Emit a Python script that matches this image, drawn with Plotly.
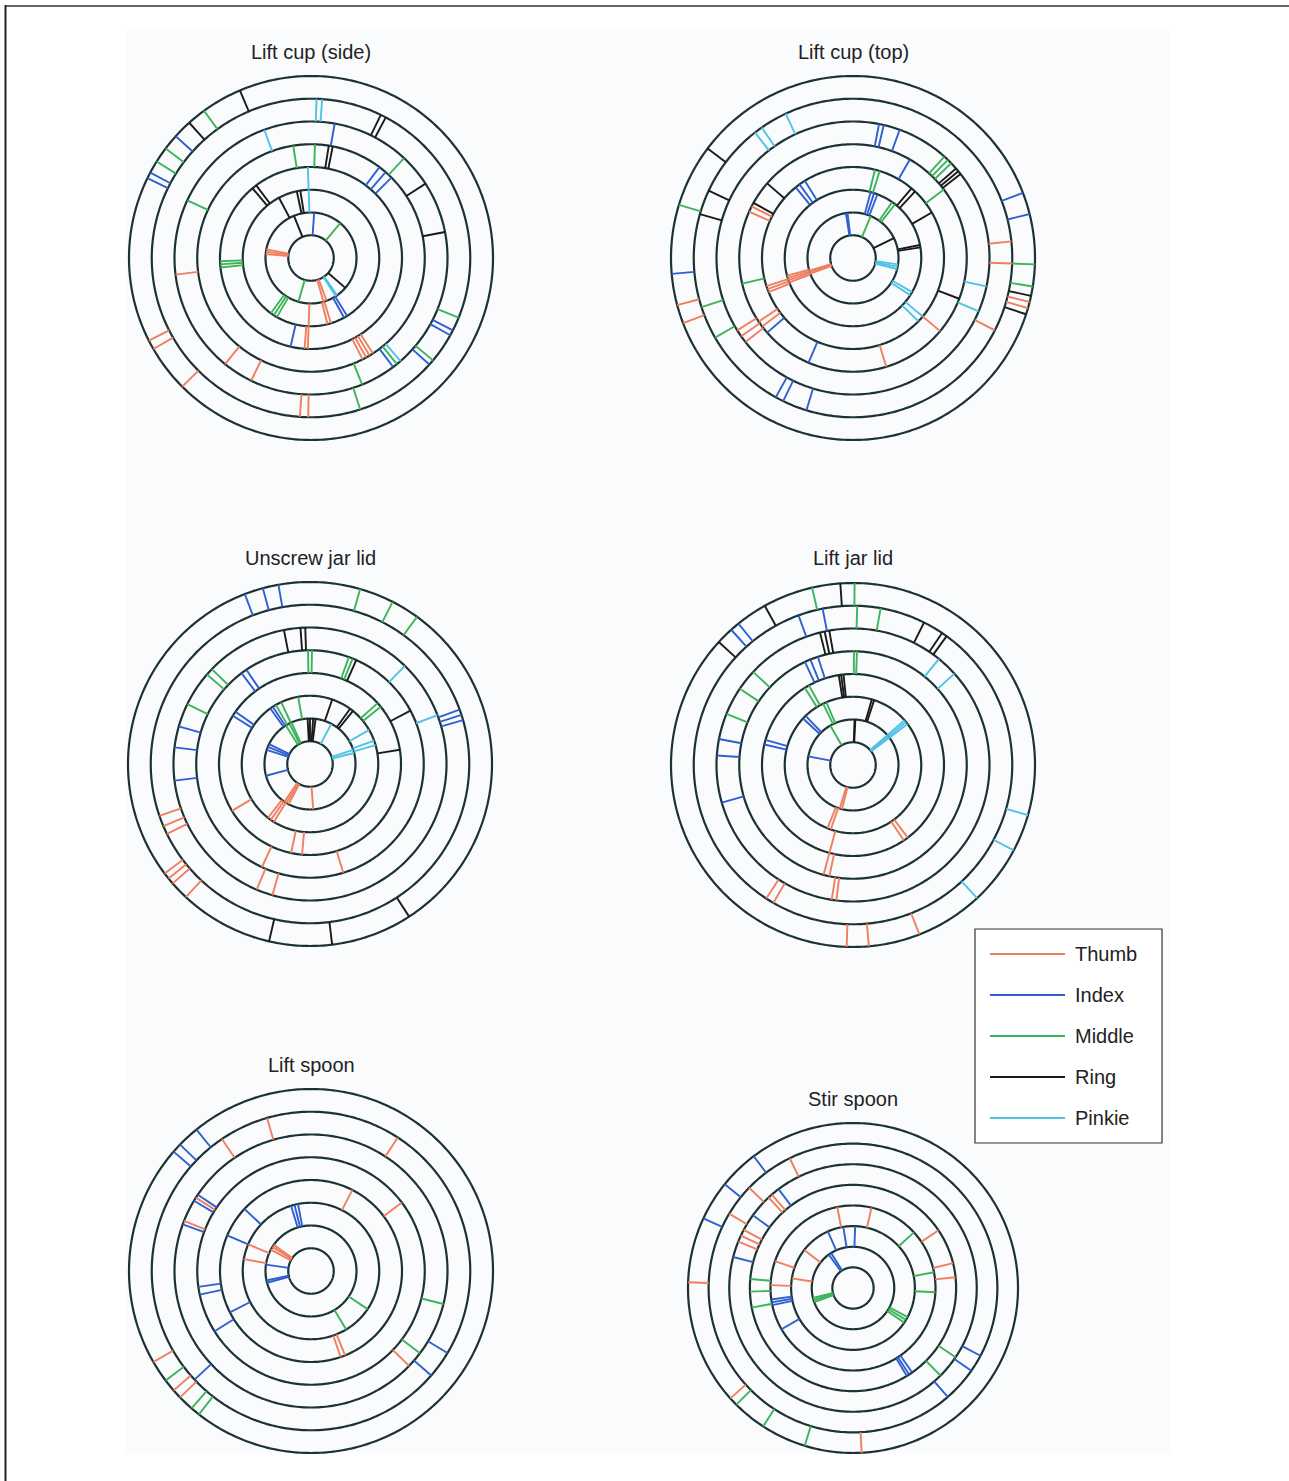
import plotly.graph_objects as go

W, H = 1289, 1481

FINGERS = ["Thumb", "Index", "Middle", "Ring", "Pinkie"]
FINGER_COLORS = ["#ef7f5f", "#2f5fd0", "#3db45a", "#1a1a1a", "#4ec3e6"]
TITLES = ["Lift cup (side)", "Lift cup (top)", "Unscrew jar lid",
          "Lift jar lid", "Lift spoon", "Stir spoon"]
N_CIRCLES = 8  # circles at r = 1..8, rings between consecutive circles

# (ring index 1..7, angle in degrees clockwise from top)
LIFT_CUP_SIDE = {
    "Thumb": [(1, 275), (1, 278), (1, 281), (1, 160), (1, 164), (2, 163), (2, 166), (2, 182),
              (3, 182), (3, 184), (4, 147), (4, 149), (4, 151), (4, 153), (5, 263), (5, 219),
              (5, 206), (6, 181), (6, 184), (7, 240), (7, 243), (7, 225)],
    "Index": [(7, 312), (7, 296), (7, 298), (5, 10), (4, 37), (4, 41), (4, 45), (1, 4),
              (2, 148), (2, 151), (3, 193), (5, 143), (6, 117), (6, 119), (6, 132)],
    "Middle": [(7, 324), (7, 307), (7, 302), (4, 351), (4, 2), (5, 43), (5, 295), (5, 158),
               (1, 40), (1, 196), (3, 264), (3, 266), (3, 268), (2, 210), (2, 213), (2, 216),
               (6, 112), (6, 130), (6, 162), (5, 141)],
    "Ring": [(7, 337), (7, 318), (6, 26), (6, 28), (4, 9), (4, 11), (5, 57), (5, 79),
             (3, 320), (3, 323), (2, 348), (2, 351), (2, 332), (1, 338), (1, 131)],
    "Pinkie": [(6, 2), (6, 4), (5, 340), (2, 358), (3, 358), (1, 145), (1, 147), (5, 139)],
}
LIFT_CUP_TOP = {
    "Thumb": [(1, 250), (1, 252), (1, 254), (2, 249), (2, 251), (2, 253), (2, 255),
              (3, 248), (3, 250), (3, 252), (4, 294), (4, 297), (4, 233), (4, 236), (4, 130),
              (4, 163), (5, 232), (5, 235), (5, 238), (6, 84), (6, 92), (6, 117),
              (7, 104), (7, 106), (7, 249), (7, 255)],
    "Index": [(7, 265), (7, 69), (7, 76), (5, 11), (5, 13), (5, 20), (4, 30), (4, 203),
              (4, 229), (3, 321), (3, 324), (3, 328), (2, 15), (2, 18), (2, 21), (1, 351),
              (1, 353), (6, 206), (6, 209), (6, 197)],
    "Middle": [(7, 287), (7, 92), (7, 99), (5, 42), (5, 44), (5, 46), (4, 53), (4, 257),
               (3, 14), (3, 17), (2, 35), (2, 38), (1, 23), (6, 252), (6, 240)],
    "Ring": [(7, 307), (7, 102), (7, 108), (6, 295), (6, 286), (5, 49), (5, 50.5), (5, 52),
             (4, 311), (4, 299), (4, 111), (3, 40), (3, 43), (3, 60), (2, 79), (2, 81), (1, 64)],
    "Pinkie": [(6, 322), (6, 325), (6, 335), (1, 98), (1, 101), (1, 104), (2, 120), (2, 123),
               (3, 130), (3, 134), (5, 102), (5, 113)],
}
UNSCREW_JAR_LID = {
    "Thumb": [(1, 176), (1, 208), (1, 211), (1, 214), (2, 212), (2, 215), (2, 218),
              (3, 185), (3, 192), (3, 239), (4, 163), (4, 205), (5, 196), (5, 203),
              (6, 244), (6, 247), (6, 251), (7, 223), (7, 229), (7, 231), (7, 233)],
    "Index": [(7, 339), (7, 345), (7, 350), (4, 323), (4, 326), (5, 286), (5, 277), (5, 263),
              (3, 302), (3, 305), (2, 324.5), (2, 327), (1, 288), (1, 292), (1, 296), (1, 255),
              (6, 70), (6, 72), (6, 74)],
    "Middle": [(7, 16), (7, 27), (7, 36), (4, 359), (4, 1), (4, 20), (4, 22), (5, 311),
               (5, 314), (5, 296), (1, 328), (1, 333), (1, 336), (2, 330), (2, 335), (2, 350),
               (3, 48), (3, 51)],
    "Ring": [(5, 349), (5, 356), (5, 358), (4, 24), (1, 357), (1, 0), (1, 4), (1, 7),
             (2, 19), (2, 36), (2, 39), (4, 62), (3, 81), (7, 193), (7, 173), (7, 147)],
    "Pinkie": [(5, 44), (5, 69), (1, 28), (1, 72), (1, 76), (2, 60), (2, 70), (2, 74)],
}
LIFT_JAR_LID = {
    "Thumb": [(1, 194), (1, 197), (2, 199), (2, 202), (3, 195), (3, 143), (3, 146),
              (4, 192), (4, 195), (5, 187), (5, 189), (6, 210), (6, 213), (7, 182), (7, 175),
              (7, 158.6)],
    "Index": [(7, 318), (7, 321), (6, 340), (6, 349), (4, 335), (4, 338), (4, 342),
              (2, 313), (2, 316), (3, 283), (3, 286), (5, 281), (5, 274), (5, 254), (1, 281)],
    "Middle": [(7, 347), (7, 0.5), (6, 1.5), (6, 10), (4, 0.5), (4, 2), (5, 313), (5, 304),
               (5, 292), (3, 328), (3, 331), (2, 334), (2, 337), (1, 330)],
    "Ring": [(7, 356), (7, 331), (7, 312.5), (6, 26.5), (6, 34), (6, 36), (5, 346), (5, 348),
             (5, 350), (3, 351), (3, 352.5), (3, 354), (2, 16), (2, 18), (1, 2), (1, 3)],
    "Pinkie": [(5, 39), (5, 48), (1, 49), (1, 51), (1, 53), (2, 49), (2, 51), (2, 53),
               (7, 106), (7, 118), (7, 137)],
}
LIFT_SPOON = {
    "Thumb": [(6, 344), (6, 326), (6, 33), (5, 302.5), (5, 291.5), (3, 27), (4, 53),
              (1, 298), (1, 302), (1, 305), (2, 293), (2, 280), (3, 158), (3, 161), (5, 134),
              (7, 240), (7, 229), (7, 226)],
    "Index": [(7, 321), (7, 311), (7, 314), (5, 301), (5, 304), (5, 290), (3, 313), (3, 293),
              (3, 243), (2, 343), (2, 346), (2, 349), (1, 278), (1, 255), (1, 258), (4, 258),
              (4, 262), (4, 238), (6, 121), (6, 131), (6, 227)],
    "Middle": [(2, 124), (2, 149), (5, 104), (5, 127), (7, 233), (7, 218), (7, 221)],
    "Ring": [],
    "Pinkie": [],
}
STIR_SPOON = {
    "Thumb": [(7, 272), (7, 228), (7, 177), (6, 334), (6, 314), (6, 301), (5, 317), (5, 319),
              (5, 292), (5, 295), (5, 298), (3, 349), (3, 13), (3, 289), (3, 272), (2, 308),
              (2, 279), (4, 56), (4, 76), (4, 84)],
    "Index": [(7, 323), (7, 309), (7, 295), (5, 323), (5, 306), (5, 284.5), (2, 336),
              (2, 351), (2, 2), (1, 324), (1, 328), (3, 258), (3, 260), (3, 262), (3, 240),
              (4, 145), (4, 147), (4, 148.5), (6, 118), (6, 125), (6, 139)],
    "Middle": [(3, 47.6), (3, 79), (3, 93), (4, 275), (4, 268), (4, 259), (1, 250), (1, 253),
               (1, 256), (2, 118), (2, 121), (2, 124), (5, 135), (5, 124), (7, 225), (7, 213),
               (7, 197)],
    "Ring": [],
    "Pinkie": [],
}
PLOT_DATA = [LIFT_CUP_SIDE, LIFT_CUP_TOP, UNSCREW_JAR_LID, LIFT_JAR_LID, LIFT_SPOON, STIR_SPOON]

# ---- layout geometry (pixels) ----
CENTERS = [(311, 258), (853, 258), (310, 764), (853, 765), (311, 1271), (853, 1288)]
RADII = [182, 182, 182, 182, 182, 165]   # pixel radius of outermost circle
TITLE_Y = [52, 52, 558, 558, 1065, 1099]
R_MAX = N_CIRCLES * 1.03  # small padding so the outer circle is not clipped


def px(x):
    return x / W


def py(y):
    return 1 - y / H


fig = go.Figure()
layout_polars = {}
for i, (data, (cx, cy), R) in enumerate(zip(PLOT_DATA, CENTERS, RADII)):
    pname = "polar" if i == 0 else f"polar{i + 1}"
    Rd = R * R_MAX / N_CIRCLES
    layout_polars[pname] = dict(
        domain=dict(x=[px(cx - Rd), px(cx + Rd)], y=[py(cy + Rd), py(cy - Rd)]),
        bgcolor="rgba(0,0,0,0)",
        radialaxis=dict(visible=False, range=[0, R_MAX]),
        angularaxis=dict(visible=False, rotation=90, direction="clockwise"),
    )
    # circles
    rr, tt = [], []
    for k in range(1, N_CIRCLES + 1):
        rr += [k] * 361 + [None]
        tt += list(range(361)) + [None]
    fig.add_trace(go.Scatterpolar(r=rr, theta=tt, mode="lines", subplot=pname,
                                  line=dict(color="#1d3333", width=2.2),
                                  hoverinfo="skip", showlegend=False))
    # finger segments
    for finger, color in zip(FINGERS, FINGER_COLORS):
        rr, tt = [], []
        for ring, ang in data[finger]:
            rr += [ring, ring + 1, None]
            tt += [ang, ang, None]
        if rr:
            fig.add_trace(go.Scatterpolar(r=rr, theta=tt, mode="lines", subplot=pname,
                                          line=dict(color=color, width=1.9),
                                          name=finger, showlegend=False))

shapes = [
    dict(type="rect", xref="paper", yref="paper", x0=px(126), x1=px(1170), y0=py(1453), y1=py(28),
         fillcolor="#fafbfd", line=dict(width=0), layer="below"),
    dict(type="line", xref="paper", yref="paper", x0=px(5), x1=px(1289), y0=py(6), y1=py(6),
         line=dict(color="#666666", width=2)),
    dict(type="line", xref="paper", yref="paper", x0=px(5.5), x1=px(5.5), y0=py(5), y1=py(1481),
         line=dict(color="#222222", width=2)),
    # legend box
    dict(type="rect", xref="paper", yref="paper", x0=px(975), x1=px(1162), y0=py(1143), y1=py(929),
         fillcolor="white", line=dict(color="#333333", width=1.2)),
]
annotations = []
for t, (cx, cy), ty in zip(TITLES, CENTERS, TITLE_Y):
    annotations.append(dict(text=t, x=px(cx), y=py(ty), xref="paper", yref="paper",
                            showarrow=False, xanchor="center", yanchor="middle",
                            font=dict(size=20, color="#222222", family="Liberation Sans, Arial")))
for j, (finger, color) in enumerate(zip(FINGERS, FINGER_COLORS)):
    yy = 954 + 41 * j
    shapes.append(dict(type="line", xref="paper", yref="paper", x0=px(990), x1=px(1065),
                       y0=py(yy), y1=py(yy), line=dict(color=color, width=2)))
    annotations.append(dict(text=finger, x=px(1073), y=py(yy), xref="paper", yref="paper",
                            showarrow=False, xanchor="left", yanchor="middle",
                            font=dict(size=20, color="#222222", family="Liberation Sans, Arial")))

fig.update_layout(width=W, height=H, margin=dict(l=0, r=0, t=0, b=0),
                  paper_bgcolor="white", plot_bgcolor="white", showlegend=False,
                  shapes=shapes, annotations=annotations, **layout_polars)

fig.write_html("out.html", config={"displayModeBar": False},
               post_script="document.body.style.margin='0';")
